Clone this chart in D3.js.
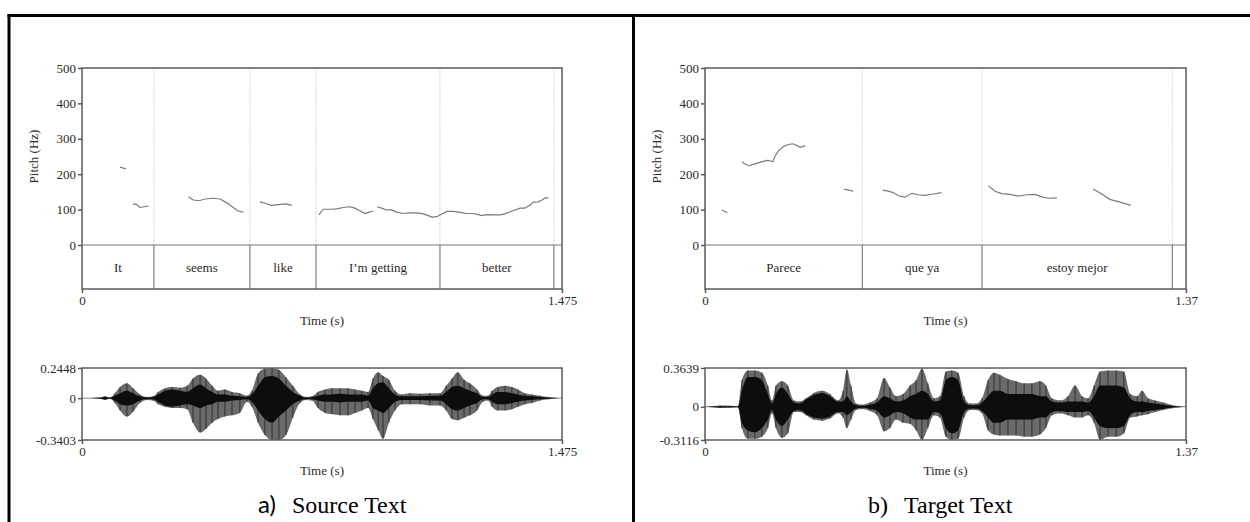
<!DOCTYPE html>
<html>
<head>
<meta charset="utf-8">
<script src="https://cdn.jsdelivr.net/npm/d3@7"></script>
<style>
  body { margin: 0; background: #fff; }
  text { font-family: "Liberation Serif", "DejaVu Serif", serif; }
</style>
</head>
<body>
<div id="chart"></div>
<script>
// ---------- data ----------
var pitchTicks = [0, 100, 200, 300, 400, 500];

// a) source text
var srcDuration = 1.475;
var srcWords = ["It", "seems", "like", "I\u2019m getting", "better"];
var srcBounds = [0, 0.221, 0.516, 0.719, 1.100, 1.450];
var srcWaveMax = 0.2448, srcWaveMin = -0.3403;
var srcPitchT = [
  [0.117, 0.135],
  [0.156, 0.169, 0.178, 0.190, 0.204],
  [0.327, 0.342, 0.360, 0.378, 0.403, 0.424, 0.445, 0.465, 0.480, 0.496],
  [0.547, 0.562, 0.583, 0.603, 0.627, 0.645],
  [0.728, 0.741, 0.762, 0.782, 0.803, 0.823, 0.839, 0.854, 0.870, 0.880, 0.895],
  [0.907, 0.921, 0.936, 0.952, 0.967, 0.987, 1.008, 1.029, 1.049, 1.064, 1.075, 1.090, 1.100, 1.121, 1.141, 1.162, 1.182, 1.202,
   1.218, 1.228, 1.238, 1.249, 1.264, 1.285, 1.300, 1.315, 1.331, 1.346, 1.361, 1.377, 1.387, 1.402, 1.413, 1.423, 1.433]
];
var srcPitchHz = [
  [220, 215],
  [116, 114, 106, 108, 110],
  [136, 127, 125, 130, 132, 130, 119, 106, 96, 93],
  [122, 118, 112, 114, 116, 112],
  [85, 101, 101, 102, 106, 108, 104, 97, 89, 92, 96],
  [108, 104, 99, 99, 93, 89, 91, 91, 88, 83, 79, 80, 85, 95, 95, 92, 89, 89,
   86, 83, 85, 86, 85, 85, 88, 94, 99, 104, 104, 113, 121, 122, 127, 133, 133]
];
var srcWaveT = [0.000, 0.055, 0.071, 0.086, 0.101, 0.117, 0.138, 0.157, 0.178, 0.200, 0.218, 0.234, 0.255, 0.277, 0.301, 0.323,
  0.341, 0.363, 0.381, 0.400, 0.418, 0.439, 0.461, 0.485, 0.507, 0.522, 0.541, 0.562, 0.584, 0.605, 0.627, 0.648, 0.670, 0.688,
  0.707, 0.725, 0.747, 0.768, 0.793, 0.817, 0.839, 0.860, 0.879, 0.894, 0.910, 0.925, 0.943, 0.962, 0.983, 1.008, 1.039, 1.069,
  1.100, 1.119, 1.137, 1.155, 1.174, 1.192, 1.214, 1.232, 1.248, 1.260, 1.278, 1.300, 1.321, 1.340, 1.361, 1.383, 1.407, 1.432,
  1.454, 1.475];
var srcWaveHi = [0, .005, .015, .005, .04, .09, .12, .08, .03, .01, .015, .05, .08, .09, .085, .10,
  .16, .19, .16, .10, .06, .07, .05, .04, .02, .06, .20, .24, .245, .23, .17, .10, .03, .01,
  .015, .05, .07, .08, .08, .08, .07, .06, .05, .16, .21, .18, .15, .06, .03, .04, .035, .04,
  .04, .10, .16, .21, .15, .12, .07, .02, .02, .06, .09, .10, .09, .07, .04, .03, .02, .01,
  .003, 0];
var srcWaveLo = [0, -.005, -.015, -.005, -.04, -.10, -.15, -.11, -.04, -.015, -.02, -.05, -.07, -.08, -.08, -.09,
  -.20, -.28, -.25, -.20, -.17, -.15, -.14, -.12, -.03, -.07, -.20, -.30, -.34, -.34, -.30, -.16, -.04, -.015,
  -.02, -.08, -.12, -.13, -.14, -.14, -.12, -.10, -.08, -.17, -.26, -.33, -.20, -.10, -.05, -.05, -.05, -.06,
  -.06, -.10, -.17, -.18, -.16, -.14, -.10, -.03, -.02, -.07, -.10, -.10, -.09, -.07, -.05, -.04, -.02, -.01,
  -.003, 0];
var srcCoreHi = [0, .003, .01, .003, .02, .04, .06, .04, .015, .005, .008, .03, .06, .07, .06, .05,
  .08, .11, .08, .05, .03, .03, .02, .015, .01, .03, .10, .17, .18, .16, .10, .05, .02, .005,
  .008, .02, .03, .03, .035, .03, .03, .03, .02, .08, .12, .13, .08, .03, .015, .015, .015, .02,
  .02, .05, .09, .10, .08, .06, .04, .01, .01, .03, .05, .05, .04, .03, .02, .015, .01, .005,
  .002, 0];
var srcCoreLo = [0, -.003, -.01, -.003, -.02, -.05, -.06, -.05, -.02, -.008, -.01, -.03, -.06, -.07, -.06, -.05,
  -.06, -.08, -.06, -.05, -.03, -.03, -.02, -.015, -.01, -.03, -.10, -.17, -.20, -.15, -.10, -.05, -.02, -.008,
  -.01, -.02, -.03, -.03, -.035, -.03, -.03, -.03, -.02, -.08, -.10, -.12, -.08, -.03, -.015, -.015, -.015, -.02,
  -.02, -.05, -.09, -.10, -.08, -.06, -.04, -.01, -.01, -.03, -.05, -.05, -.04, -.03, -.02, -.015, -.01, -.005,
  -.002, 0];

// b) target text
var tgtDuration = 1.37;
var tgtWords = ["Parece", "que ya", "estoy mejor"];
var tgtBounds = [0, 0.448, 0.789, 1.331];
var tgtWaveMax = 0.3639, tgtWaveMin = -0.3116;
var tgtPitchT = [
  [0.048, 0.064],
  [0.105, 0.114, 0.126, 0.142, 0.159, 0.176, 0.185, 0.193, 0.199, 0.209, 0.223, 0.237, 0.250, 0.261, 0.271, 0.285],
  [0.396, 0.422],
  [0.506, 0.522, 0.536, 0.551, 0.570, 0.589, 0.608, 0.627, 0.650, 0.674],
  [0.807, 0.826, 0.845, 0.869, 0.892, 0.916, 0.940, 0.959, 0.978, 1.002],
  [1.106, 1.130, 1.153, 1.182, 1.213]
];
var tgtPitchHz = [
  [99, 91],
  [235, 229, 224, 229, 234, 239, 238, 235, 250, 266, 278, 284, 286, 282, 276, 280],
  [158, 152],
  [155, 152, 148, 139, 135, 146, 142, 140, 144, 148],
  [167, 152, 145, 143, 138, 142, 143, 136, 132, 133],
  [158, 144, 129, 121, 112]
];
var tgtWaveT = [0.000, 0.020, 0.043, 0.071, 0.094, 0.105, 0.122, 0.142, 0.162, 0.179, 0.191, 0.202, 0.219, 0.236, 0.253, 0.271,
  0.288, 0.310, 0.333, 0.356, 0.379, 0.393, 0.404, 0.416, 0.430, 0.447, 0.470, 0.490, 0.510, 0.527, 0.544, 0.564, 0.584, 0.601,
  0.618, 0.635, 0.652, 0.669, 0.686, 0.703, 0.721, 0.738, 0.755, 0.772, 0.789, 0.806, 0.823, 0.840, 0.863, 0.886, 0.909, 0.931,
  0.954, 0.971, 0.988, 1.011, 1.034, 1.054, 1.074, 1.091, 1.108, 1.125, 1.148, 1.171, 1.193, 1.211, 1.231, 1.245, 1.262, 1.282,
  1.305, 1.326, 1.349, 1.370];
var tgtWaveHi = [0, .004, .012, .01, .006, .25, .34, .34, .32, .20, .06, .20, .24, .20, .06, .05,
  .08, .13, .15, .12, .06, .15, .35, .20, .03, .02, .04, .08, .27, .18, .10, .12, .20, .25,
  .36, .22, .08, .10, .33, .34, .32, .10, .03, .03, .08, .25, .32, .30, .26, .24, .22, .22,
  .24, .20, .08, .06, .10, .20, .10, .08, .20, .33, .34, .34, .33, .12, .10, .15, .08, .06,
  .04, .02, .006, 0];
var tgtWaveLo = [0, -.004, -.012, -.01, -.006, -.20, -.30, -.30, -.28, -.20, -.06, -.20, -.29, -.25, -.05, -.05,
  -.08, -.12, -.13, -.11, -.06, -.10, -.20, -.12, -.03, -.02, -.04, -.08, -.23, -.20, -.12, -.15, -.16, -.22,
  -.31, -.20, -.08, -.10, -.28, -.31, -.30, -.10, -.03, -.03, -.06, -.22, -.26, -.27, -.27, -.27, -.28, -.28,
  -.26, -.20, -.08, -.06, -.08, -.10, -.10, -.08, -.15, -.31, -.28, -.28, -.25, -.10, -.09, -.08, -.07, -.05,
  -.03, -.015, -.006, 0];
var tgtCoreHi = [0, .002, .006, .005, .003, .15, .28, .28, .25, .12, .03, .12, .18, .12, .04, .03,
  .07, .11, .13, .10, .05, .05, .10, .05, .015, .01, .02, .04, .10, .08, .05, .06, .10, .12,
  .15, .12, .05, .06, .25, .28, .25, .05, .015, .015, .04, .10, .15, .15, .12, .12, .12, .12,
  .10, .10, .05, .04, .05, .05, .05, .04, .10, .20, .20, .20, .18, .08, .05, .05, .04, .03,
  .02, .01, .003, 0];
var tgtCoreLo = [0, -.002, -.006, -.005, -.003, -.15, -.22, -.24, -.20, -.12, -.03, -.12, -.18, -.12, -.04, -.03,
  -.07, -.10, -.11, -.09, -.05, -.05, -.08, -.05, -.015, -.01, -.02, -.04, -.10, -.08, -.05, -.06, -.10, -.12,
  -.12, -.12, -.05, -.06, -.20, -.25, -.22, -.05, -.015, -.015, -.04, -.10, -.15, -.15, -.12, -.12, -.12, -.12,
  -.10, -.10, -.05, -.04, -.05, -.05, -.05, -.04, -.10, -.18, -.20, -.20, -.18, -.08, -.05, -.05, -.04, -.03,
  -.02, -.01, -.003, 0];

// ---------- layout ----------
var W = 1250, H = 522;
var pitchTop = 68, pitchBottom = 245, tierBottom = 289;
var waveTop = 368, waveBottom = 440;
var frameColor = "#5a5a5a", labelColor = "#2a2a2a";
var smallFont = 13;

var svg = d3.select("#chart").append("svg")
  .attr("width", W)
  .attr("height", H);

// outer box lines (right and bottom edges fall outside the picture)
var border = svg.append("g")
  .attr("stroke", "#000")
  .attr("stroke-width", 3);
border.append("line").attr("x1", 7.5).attr("x2", W).attr("y1", 15.5).attr("y2", 15.5);
border.append("line").attr("x1", 9).attr("x2", 9).attr("y1", 14).attr("y2", H);
border.append("line").attr("x1", 633.5).attr("x2", 633.5).attr("y1", 14).attr("y2", H);

function drawPanel(cfg) {
  var g = svg.append("g");

  var x = d3.scaleLinear().domain([0, cfg.duration]).range([cfg.x0, cfg.x1]);
  var yP = d3.scaleLinear().domain([0, 500]).range([pitchBottom, pitchTop]);
  var yW = d3.scaleLinear().domain([cfg.waveMin, cfg.waveMax]).range([waveBottom, waveTop]);

  // dotted boundaries in the pitch area
  var inner = cfg.bounds.slice(1);
  g.selectAll(".dot").data(inner).enter().append("line")
    .attr("x1", function (d) { return x(d); })
    .attr("x2", function (d) { return x(d); })
    .attr("y1", pitchTop)
    .attr("y2", pitchBottom)
    .attr("stroke", "#aaa")
    .attr("stroke-width", 0.8)
    .attr("stroke-dasharray", "1,1.5");

  // tier boundaries
  g.selectAll(".tier").data(inner).enter().append("line")
    .attr("x1", function (d) { return x(d); })
    .attr("x2", function (d) { return x(d); })
    .attr("y1", pitchBottom)
    .attr("y2", tierBottom)
    .attr("stroke", "#666")
    .attr("stroke-width", 1);

  // words
  g.selectAll(".word").data(cfg.words).enter().append("text")
    .attr("x", function (d, i) { return (x(cfg.bounds[i]) + x(cfg.bounds[i + 1])) / 2; })
    .attr("y", (pitchBottom + tierBottom) / 2 + 4.5)
    .attr("text-anchor", "middle")
    .attr("font-size", smallFont)
    .attr("fill", labelColor)
    .text(function (d) { return d; });

  // pitch contours
  var line = d3.line()
    .x(function (d) { return x(d[0]); })
    .y(function (d) { return yP(d[1]); });
  var segs = cfg.pitchT.map(function (ts, i) {
    return ts.map(function (t, j) { return [t, cfg.pitchHz[i][j]]; });
  });
  g.selectAll(".pitch").data(segs).enter().append("path")
    .attr("d", line)
    .attr("fill", "none")
    .attr("stroke", "#7a7a7a")
    .attr("stroke-width", 1.2);

  // pitch frame
  g.append("rect")
    .attr("x", cfg.x0).attr("y", pitchTop)
    .attr("width", cfg.x1 - cfg.x0).attr("height", tierBottom - pitchTop)
    .attr("fill", "none").attr("stroke", frameColor).attr("stroke-width", 1.5);
  g.append("line")
    .attr("x1", cfg.x0).attr("x2", cfg.x1)
    .attr("y1", pitchBottom).attr("y2", pitchBottom)
    .attr("stroke", "#777").attr("stroke-width", 1);

  // pitch axis
  var yAxis = g.append("g")
    .attr("transform", "translate(" + cfg.x0 + ",0)")
    .call(d3.axisLeft(yP).tickValues(pitchTicks).tickSize(4).tickPadding(2));
  styleAxis(yAxis);
  g.append("text")
    .attr("transform", "translate(" + (cfg.x0 - 44) + "," + ((pitchTop + pitchBottom) / 2) + ") rotate(-90)")
    .attr("text-anchor", "middle")
    .attr("font-size", smallFont)
    .attr("fill", labelColor)
    .text("Pitch (Hz)");

  // time axis of pitch plot
  var xAxis = g.append("g")
    .attr("transform", "translate(0," + tierBottom + ")")
    .call(d3.axisBottom(x).tickValues([0, cfg.duration]).tickFormat(d3.format("")).tickSize(4).tickPadding(3));
  styleAxis(xAxis);
  g.append("text")
    .attr("x", (cfg.x0 + cfg.x1) / 2).attr("y", tierBottom + 36)
    .attr("text-anchor", "middle").attr("font-size", smallFont).attr("fill", labelColor)
    .text("Time (s)");

  // waveform
  var wave = cfg.waveT.map(function (t, i) {
    return { t: t, hi: cfg.waveHi[i], lo: cfg.waveLo[i], chi: cfg.coreHi[i], clo: cfg.coreLo[i] };
  });
  g.append("line")
    .attr("x1", cfg.x0).attr("x2", cfg.x1)
    .attr("y1", yW(0)).attr("y2", yW(0))
    .attr("stroke", "#999").attr("stroke-width", 1);
  g.append("path").datum(wave)
    .attr("d", d3.area()
      .x(function (d) { return x(d.t); })
      .y0(function (d) { return yW(d.lo); })
      .y1(function (d) { return yW(d.hi); })
      .curve(d3.curveMonotoneX))
    .attr("fill", "#6a6a6a");
  g.selectAll(".spike").data(wave).enter().append("line")
    .attr("x1", function (d) { return x(d.t); })
    .attr("x2", function (d) { return x(d.t); })
    .attr("y1", function (d) { return yW(d.lo); })
    .attr("y2", function (d) { return yW(d.hi); })
    .attr("stroke", "#222")
    .attr("stroke-width", 0.8);
  g.append("path").datum(wave)
    .attr("d", d3.area()
      .x(function (d) { return x(d.t); })
      .y0(function (d) { return yW(d.clo); })
      .y1(function (d) { return yW(d.chi); })
      .curve(d3.curveMonotoneX))
    .attr("fill", "#0d0d0d");

  g.append("rect")
    .attr("x", cfg.x0).attr("y", waveTop)
    .attr("width", cfg.x1 - cfg.x0).attr("height", waveBottom - waveTop)
    .attr("fill", "none").attr("stroke", frameColor).attr("stroke-width", 1.5);

  var wAxis = g.append("g")
    .attr("transform", "translate(" + cfg.x0 + ",0)")
    .call(d3.axisLeft(yW).tickValues([cfg.waveMin, 0, cfg.waveMax]).tickFormat(function (d) { return d === 0 ? "0" : String(d); }).tickSize(4).tickPadding(2));
  styleAxis(wAxis);

  var wxAxis = g.append("g")
    .attr("transform", "translate(0," + waveBottom + ")")
    .call(d3.axisBottom(x).tickValues([0, cfg.duration]).tickFormat(d3.format("")).tickSize(4).tickPadding(3));
  styleAxis(wxAxis);
  g.append("text")
    .attr("x", (cfg.x0 + cfg.x1) / 2).attr("y", waveBottom + 35)
    .attr("text-anchor", "middle").attr("font-size", smallFont).attr("fill", labelColor)
    .text("Time (s)");

  // caption
  var cap = g.append("text")
    .attr("x", cfg.capX).attr("y", 513)
    .attr("font-size", 24)
    .attr("fill", "#000");
  cap.append("tspan").attr("font-family", cfg.capFont).text(cfg.capTag);
  cap.append("tspan").attr("dx", 16).text(cfg.caption);
}

function styleAxis(ax) {
  ax.select(".domain").remove();
  ax.selectAll(".tick line").attr("stroke", frameColor).attr("stroke-width", 1.5);
  ax.selectAll(".tick text")
    .attr("font-family", "Liberation Serif")
    .attr("font-size", smallFont)
    .attr("fill", labelColor);
}

drawPanel({
  x0: 82, x1: 562, duration: srcDuration, words: srcWords, bounds: srcBounds,
  pitchT: srcPitchT, pitchHz: srcPitchHz,
  waveT: srcWaveT, waveHi: srcWaveHi, waveLo: srcWaveLo, coreHi: srcCoreHi, coreLo: srcCoreLo,
  waveMin: srcWaveMin, waveMax: srcWaveMax,
  capX: 258, capTag: "a)", capFont: "Lato", caption: "Source Text"
});

drawPanel({
  x0: 705, x1: 1186, duration: tgtDuration, words: tgtWords, bounds: tgtBounds,
  pitchT: tgtPitchT, pitchHz: tgtPitchHz,
  waveT: tgtWaveT, waveHi: tgtWaveHi, waveLo: tgtWaveLo, coreHi: tgtCoreHi, coreLo: tgtCoreLo,
  waveMin: tgtWaveMin, waveMax: tgtWaveMax,
  capX: 868, capTag: "b)", capFont: "Liberation Serif", caption: "Target Text"
});
</script>
</body>
</html>
